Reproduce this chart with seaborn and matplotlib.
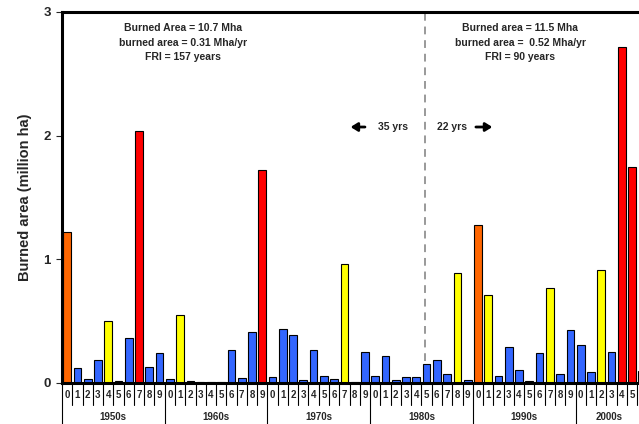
import pandas as pd
import seaborn as sns
import matplotlib.pyplot as plt

# burned area per year (million ha)
years = list(range(1950, 2007))
burned = [1.22, 0.12, 0.03, 0.19, 0.50, 0.02, 0.36, 2.04, 0.13, 0.24,
          0.035, 0.55, 0.02, 0.01, 0.005, 0.005, 0.27, 0.04, 0.41, 1.72,
          0.045, 0.44, 0.39, 0.025, 0.27, 0.055, 0.03, 0.96, 0.005, 0.25,
          0.055, 0.22, 0.025, 0.045, 0.045, 0.15, 0.19, 0.07, 0.89, 0.025,
          1.28, 0.71, 0.06, 0.29, 0.105, 0.015, 0.24, 0.77, 0.07, 0.43,
          0.31, 0.085, 0.91, 0.25, 2.72, 1.75, 0.10]

orange_years = [1950, 1990]
red_years = [1957, 1969, 2004, 2005]
yellow_years = [1954, 1961, 1977, 1988, 1991, 1997, 2002]

decades = ['1950s', '1960s', '1970s', '1980s', '1990s', '2000s']

block_left = ['Burned Area = 10.7 Mha', 'burned area = 0.31 Mha/yr', 'FRI = 157 years']
block_right = ['Burned area = 11.5 Mha', 'burned area =  0.52 Mha/yr', 'FRI = 90 years']

colors = {'orange': '#FF6600', 'red': '#FF0000', 'yellow': '#FFFF00', 'blue': '#3366FF'}


def kind_of(year):
    if year in orange_years:
        return 'orange'
    if year in red_years:
        return 'red'
    if year in yellow_years:
        return 'yellow'
    return 'blue'


df = pd.DataFrame({'year': [str(y) for y in years], 'value': burned})
df['kind'] = [kind_of(y) for y in years]

sns.set_style('white')
plt.rcParams['font.family'] = ['Liberation Sans', 'DejaVu Sans']
plt.rcParams['font.weight'] = 'bold'

fig = plt.figure(figsize=(6.39, 4.24), dpi=100)
ax = fig.add_axes([0.097, 0.0967, 0.903, 0.875])

sns.barplot(data=df, x='year', y='value', hue='kind', palette=colors, order=df['year'],
            dodge=False, width=0.75, saturation=1, edgecolor='black', linewidth=0.8,
            legend=False, ax=ax)

ax.set_xlim(-0.5, 55.68)
ax.set_ylim(0, 3)

# frame
for side in ['left', 'top', 'bottom']:
    ax.spines[side].set_linewidth(2.2)
    ax.spines[side].set_color('black')
ax.spines['right'].set_visible(False)

ax.set_yticks([0, 1, 2, 3])
ax.set_yticklabels(['0', '1', '2', '3'], fontsize=9.5, fontweight='bold')
ax.tick_params(axis='y', left=True, length=4, width=0.8, pad=4)
ax.set_ylabel('Burned area (million ha)', fontsize=10.5, fontweight='bold', labelpad=8)

# the 2006 label falls outside the cropped frame, so only 1950-2005 get digits
shown = years[:-1]
ax.set_xticks(range(len(shown)))
ax.set_xticklabels([str(y % 10) for y in shown], fontsize=7, fontweight='bold')
ax.tick_params(axis='x', length=0, pad=5)
ax.set_xlabel('')

# separators under the axis
trans = ax.get_xaxis_transform()
for i in range(len(years)):
    x = i - 0.5
    low = -0.115 if i % 10 == 0 else -0.058
    ax.plot([x, x], [0, low], color='black', lw=0.8, transform=trans, clip_on=False)

for k, name in enumerate(decades):
    xc = k * 10 + 4.5
    if k == len(decades) - 1:
        xc = 52.8
    ax.text(xc, -0.092, name, transform=trans, ha='center', va='center',
            fontsize=7, fontweight='bold')

# break between periods
ax.plot([34.8, 34.8], [0.18, 3], color='#999999', lw=1.4, linestyle=(0, (4, 3)))

for j, line in enumerate(block_left):
    ax.text(11.3, 2.87 - j * 0.117, line, ha='center', va='center', fontsize=7.5, fontweight='bold')
for j, line in enumerate(block_right):
    ax.text(44.1, 2.87 - j * 0.117, line, ha='center', va='center', fontsize=7.5, fontweight='bold')

ax.text(33.2, 2.07, '35 yrs', ha='right', va='center', fontsize=7.5, fontweight='bold')
ax.text(36.0, 2.07, '22 yrs', ha='left', va='center', fontsize=7.5, fontweight='bold')
arrow = dict(arrowstyle='-|>,head_length=0.4,head_width=0.25', lw=2.0, color='black',
             shrinkA=0, shrinkB=0)
ax.annotate('', xy=(27.6, 2.07), xytext=(29.0, 2.07), arrowprops=arrow)
ax.annotate('', xy=(41.4, 2.07), xytext=(39.8, 2.07), arrowprops=arrow)

fig.savefig('out.png', dpi=100)
